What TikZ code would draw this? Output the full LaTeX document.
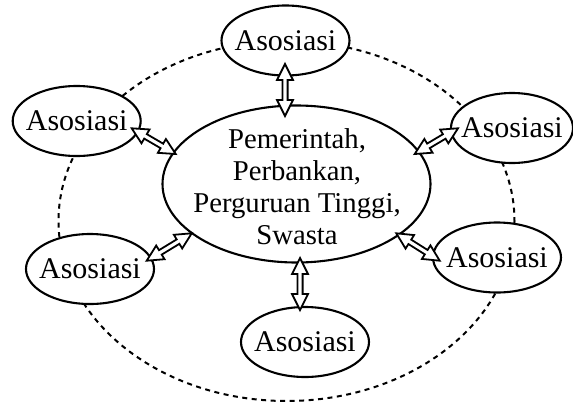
\documentclass[tikz,border=0pt]{standalone}
\usepackage{fontspec}
\setmainfont{Liberation Serif}
\usetikzlibrary{shapes.geometric,calc}
\newcommand\hollowlink[2]{%
  \draw[link] (#1)
    -- ($(#1)!16pt!(#2)!8pt!90:(#2)$)
    -- ($(#1)!16pt!(#2)!2.6pt!90:(#2)$)
    -- ($(#2)!16pt!(#1)!2.6pt!-90:(#1)$)
    -- ($(#2)!16pt!(#1)!8pt!-90:(#1)$)
    -- (#2)
    -- ($(#2)!16pt!(#1)!8pt!90:(#1)$)
    -- ($(#2)!16pt!(#1)!2.6pt!90:(#1)$)
    -- ($(#1)!16pt!(#2)!2.6pt!-90:(#2)$)
    -- ($(#1)!16pt!(#2)!8pt!-90:(#2)$)
    -- cycle;}
\begin{document}
\begin{tikzpicture}[x=1pt,y=-1pt,
  assoc/.style={draw, ellipse, fill=white, line width=2.1pt, minimum width=128pt, minimum height=70pt, inner xsep=-8pt, inner ysep=0pt, font=\fontsize{30}{31.7}\selectfont},
  hub/.style={draw, ellipse, fill=white, line width=2.1pt, minimum width=268pt, minimum height=157pt},
  hubtext/.style={align=center, inner sep=0pt, font=\fontsize{28.7}{31.7}\selectfont},
  ring/.style={line width=2pt, dash pattern=on 5pt off 4.5pt},
  link/.style={draw, fill=white, line width=1.8pt, line join=miter, miter limit=10}
]
\useasboundingbox (0,0) rectangle (573,405);
\coordinate (ringc) at (286.5,221);
\draw[ring] (ringc) ellipse [x radius=228, y radius=180];
\node[hub] (hub) at (296.5,184) {};
\node[hubtext] (hubt) at (297,186.7) {Pemerintah,\\Perbankan,\\Perguruan Tinggi,\\Swasta};
\node[assoc] (top) at (285.5,40.5) {Asosiasi};
\node[assoc] (left) at (76.7,121) {Asosiasi};
\node[assoc, minimum width=122pt] (right) at (512,128) {Asosiasi};
\node[assoc] (bleft) at (90,269) {Asosiasi};
\node[assoc] (bright) at (497,257.5) {Asosiasi};
\node[assoc] (bottom) at (305,342) {Asosiasi};
\coordinate (t1) at (285,64);
\coordinate (t2) at (285,116);
\coordinate (l1) at (131.7,128.3);
\coordinate (l2) at (175.7,154);
\coordinate (r1) at (414.7,154);
\coordinate (r2) at (458,128.3);
\coordinate (bl1) at (146.7,260.7);
\coordinate (bl2) at (191.7,233.3);
\coordinate (br1) at (396.3,233.3);
\coordinate (br2) at (439.7,260.7);
\coordinate (b1) at (300,258);
\coordinate (b2) at (300,310);
\hollowlink{t1}{t2}
\hollowlink{l1}{l2}
\hollowlink{r1}{r2}
\hollowlink{bl1}{bl2}
\hollowlink{br1}{br2}
\hollowlink{b1}{b2}
\end{tikzpicture}
\end{document}
